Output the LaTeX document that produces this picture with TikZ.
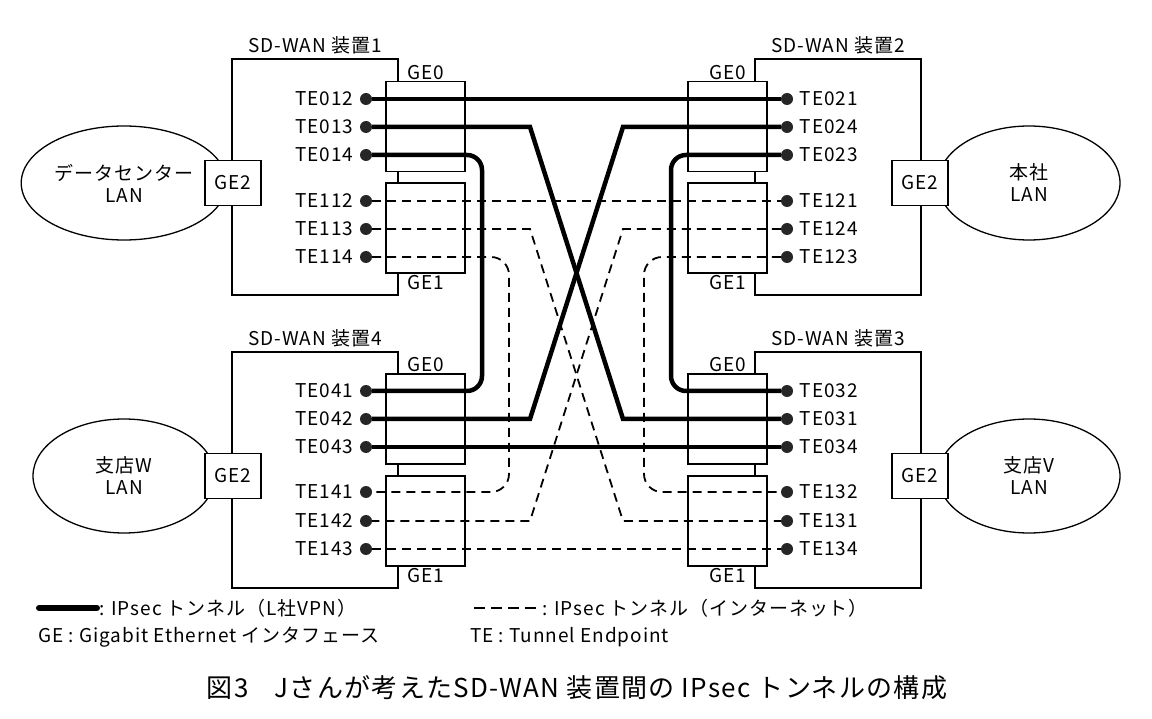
\documentclass[tikz,border=0pt]{standalone}
\usepackage{fontspec}
\setmainfont[LetterSpace=5]{Noto Sans CJK JP}
\usetikzlibrary{shapes.geometric}

\begin{document}
\begin{tikzpicture}[x=1pt,y=-1pt,
	every node/.style={font=\fontsize{19}{22}\selectfont},
	dev/.style={draw,line width=1.3pt,minimum width=166pt,minimum height=236pt},
	port/.style={draw,fill=white,line width=1.3pt,minimum width=79pt,minimum height=90pt},
	ge2/.style={draw,fill=white,line width=1.3pt,minimum width=56pt,minimum height=45pt},
	lan/.style={draw,ellipse,line width=1.3pt,minimum width=182pt,minimum height=114pt,align=center},
	tep/.style={circle,fill=black!85,inner sep=0pt,minimum size=12pt},
	vpn/.style={line width=4.5pt},
	inet/.style={line width=1.8pt,dash pattern=on 9pt off 6pt}]

	\useasboundingbox (0,0) rectangle (1152,719);

	\node[lan] (lan1) at (124,183) {データセンター\\LAN};
	\node[lan] (lan2) at (1029,183) {本社\\LAN};
	\node[lan] (lan4) at (124,476) {支店W\\LAN};
	\node[lan] (lan3) at (1029,476) {支店V\\LAN};

	\node[dev,label={[yshift=1pt]above:SD-WAN 装置1}] (dev1) at (315,177) {};
	\node[dev,label={[yshift=1pt]above:SD-WAN 装置2}] (dev2) at (838,177) {};
	\node[dev,label={[yshift=1pt]above:SD-WAN 装置4}] (dev4) at (315,470) {};
	\node[dev,label={[yshift=1pt]above:SD-WAN 装置3}] (dev3) at (838,470) {};

	\node[ge2] (d1ge2) at (233,183) {GE2};
	\node[ge2] (d2ge2) at (920,183) {GE2};
	\node[ge2] (d4ge2) at (233,476) {GE2};
	\node[ge2] (d3ge2) at (920,476) {GE2};

	\node[port,label={[inner sep=1pt]above:GE0}] (d1ge0) at (425.5,126.5) {};
	\node[port,label={[inner sep=1pt]below:GE1}] (d1ge1) at (425.5,228) {};
	\node[port,label={[inner sep=1pt]above:GE0}] (d2ge0) at (727.5,126.5) {};
	\node[port,label={[inner sep=1pt]below:GE1}] (d2ge1) at (727.5,228) {};
	\node[port,label={[inner sep=1pt]above:GE0}] (d4ge0) at (425.5,419) {};
	\node[port,label={[inner sep=1pt]below:GE1}] (d4ge1) at (425.5,521) {};
	\node[port,label={[inner sep=1pt]above:GE0}] (d3ge0) at (727.5,419) {};
	\node[port,label={[inner sep=1pt]below:GE1}] (d3ge1) at (727.5,521) {};

	\node[tep,label={[label distance=3pt]left:TE012}] (te012) at (366,99) {};
	\node[tep,label={[label distance=3pt]left:TE013}] (te013) at (366,127) {};
	\node[tep,label={[label distance=3pt]left:TE014}] (te014) at (366,155) {};
	\node[tep,label={[label distance=3pt]left:TE112}] (te112) at (366,201) {};
	\node[tep,label={[label distance=3pt]left:TE113}] (te113) at (366,229) {};
	\node[tep,label={[label distance=3pt]left:TE114}] (te114) at (366,257) {};

	\node[tep,label={[label distance=3pt]right:TE021}] (te021) at (787,99) {};
	\node[tep,label={[label distance=3pt]right:TE024}] (te024) at (787,127) {};
	\node[tep,label={[label distance=3pt]right:TE023}] (te023) at (787,155) {};
	\node[tep,label={[label distance=3pt]right:TE121}] (te121) at (787,201) {};
	\node[tep,label={[label distance=3pt]right:TE124}] (te124) at (787,229) {};
	\node[tep,label={[label distance=3pt]right:TE123}] (te123) at (787,257) {};

	\node[tep,label={[label distance=3pt]left:TE041}] (te041) at (366,391) {};
	\node[tep,label={[label distance=3pt]left:TE042}] (te042) at (366,419) {};
	\node[tep,label={[label distance=3pt]left:TE043}] (te043) at (366,447) {};
	\node[tep,label={[label distance=3pt]left:TE141}] (te141) at (366,492) {};
	\node[tep,label={[label distance=3pt]left:TE142}] (te142) at (366,521) {};
	\node[tep,label={[label distance=3pt]left:TE143}] (te143) at (366,549) {};

	\node[tep,label={[label distance=3pt]right:TE032}] (te032) at (787,391) {};
	\node[tep,label={[label distance=3pt]right:TE031}] (te031) at (787,419) {};
	\node[tep,label={[label distance=3pt]right:TE034}] (te034) at (787,447) {};
	\node[tep,label={[label distance=3pt]right:TE132}] (te132) at (787,492) {};
	\node[tep,label={[label distance=3pt]right:TE131}] (te131) at (787,521) {};
	\node[tep,label={[label distance=3pt]right:TE134}] (te134) at (787,549) {};

	\coordinate (xl) at (530,0);
	\coordinate (xr) at (623,0);
	\coordinate (bl) at (482,0);
	\coordinate (br) at (671,0);
	\coordinate (dl) at (509,0);
	\coordinate (dr) at (644,0);

	\draw[vpn] (te012) -- (te021);
	\draw[vpn] (te013) -- (te013 -| xl) -- (te031 -| xr) -- (te031);
	\draw[vpn] (te024) -- (te024 -| xr) -- (te042 -| xl) -- (te042);
	\draw[vpn,rounded corners=15pt] (te014) -- (te014 -| bl) -- (te041 -| bl) -- (te041);
	\draw[vpn,rounded corners=15pt] (te023) -- (te023 -| br) -- (te032 -| br) -- (te032);
	\draw[vpn] (te043) -- (te034);

	\draw[inet] (te112) -- (te121);
	\draw[inet] (te113) -- (te113 -| xl) -- (te131 -| xr) -- (te131);
	\draw[inet] (te124) -- (te124 -| xr) -- (te142 -| xl) -- (te142);
	\draw[inet,rounded corners=18pt] (te114) -- (te114 -| dl) -- (te141 -| dl) -- (te141);
	\draw[inet,rounded corners=18pt] (te123) -- (te123 -| dr) -- (te132 -| dr) -- (te132);
	\draw[inet] (te143) -- (te134);

	\coordinate (lgva) at (39,608);
	\coordinate (lgvb) at (97,608);
	\coordinate (lgia) at (474,608);
	\coordinate (lgib) at (540,608);
	\draw[vpn,line width=6pt,line cap=round] (lgva) -- (lgvb);
	\draw[inet,dash pattern=on 11pt off 6pt] (lgia) -- (lgib);
	\node[anchor=west,inner sep=2pt] (lgv) at (lgvb) {: IPsec トンネル（L社VPN）};
	\node[anchor=west,inner sep=2pt] (lgi) at (lgib) {: IPsec トンネル（インターネット）};
	\node[anchor=west,inner sep=0pt] (lgge) at (38,637) {GE : Gigabit Ethernet インタフェース};
	\node[anchor=west,inner sep=0pt] (lgte) at (470,637) {TE : Tunnel Endpoint};

	\node[font=\fontsize{26}{31}\selectfont] (cap) at (577,688) {図3\quad Jさんが考えたSD-WAN 装置間の IPsec トンネルの構成};

\end{tikzpicture}
\end{document}
